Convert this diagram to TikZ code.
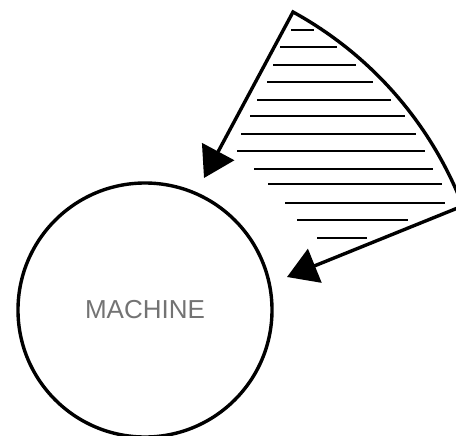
\documentclass[tikz,border=0pt]{standalone}
\usepackage{fontspec}
\setmainfont{Liberation Sans}
\usetikzlibrary{arrows.meta}

\begin{document}
\begin{tikzpicture}[x=0.25mm,y=-0.25mm,
  outline/.style={black, line width=0.85mm},
  hatch/.style={black, line width=0.6mm},
  feed/.style={outline, {Triangle[length=7.5mm,width=9mm]}-{Triangle[length=7.5mm,width=9mm]}}]
  \useasboundingbox (0,0) rectangle (456,435);

  \node[draw, outline, circle, minimum size=63.5mm, inner sep=0pt, text=black!55,
        font=\fontsize{18.5pt}{18.5pt}\selectfont] (machine) at (145,310) {MACHINE};

  % sector with its two arrows
  \coordinate (apex) at (293,12);
  \coordinate (tipA) at (204,178);
  \coordinate (tipB) at (287,277);
  \draw[feed] (tipA) -- (apex) arc[start angle=-61.3, end angle=-21.1, radius=375]
    coordinate (corner) -- (tipB);

  % hatching
  \foreach \y/\a/\b in {30/291/314, 47/280/337, 65/273/356, 82/267/373,
      100/257/391, 116/250/405, 134/241/416, 151/237/425, 169/254/433,
      184/268/442, 203/285/445, 220/297/408, 238/317/367}
    \draw[hatch] (\a,\y) -- (\b,\y);
\end{tikzpicture}
\end{document}
